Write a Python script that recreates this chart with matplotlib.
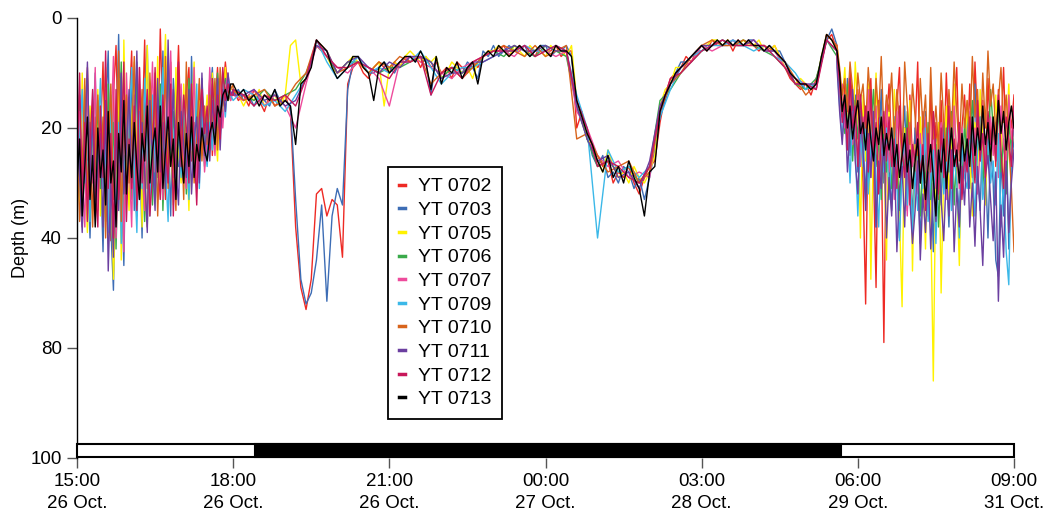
import numpy as np
import matplotlib.pyplot as plt
from matplotlib.patches import Rectangle
from matplotlib.lines import Line2D

plt.rcParams['font.family'] = ['Liberation Sans', 'DejaVu Sans']

# hours after 15:00; three stretches: evening, night, morning
t_start, t_mid, t_late, t_end = 0.0, 3.0, 14.6, 18.0
night = (3.42, 14.68)

tags = ['YT 0702', 'YT 0703', 'YT 0705', 'YT 0706', 'YT 0707',
        'YT 0709', 'YT 0710', 'YT 0711', 'YT 0712', 'YT 0713']
colors = ['#ee2a24', '#3d6db5', '#fff200', '#3aaa4a', '#ee4b9c',
          '#3bb8e8', '#d8641c', '#6b3fa0', '#c8175a', '#000000']

xtick_pos = [0, 3, 6, 9, 12, 15, 18]
xtick_lab = ['15:00\n26 Oct.', '18:00\n26 Oct.', '21:00\n26 Oct.', '00:00\n27 Oct.',
             '03:00\n28 Oct.', '06:00\n29 Oct.', '09:00\n31 Oct.']
ytick_pos = [0, 20, 40, 80, 100]

# depth (m), 15:00-18:00
early_0702 = [12, 25, 38, 20, 9, 28, 35, 18, 30, 22,
              8, 33, 19, 41, 14, 5, 26, 38, 11, 30,
              17, 6, 29, 36, 12, 22, 4, 31, 19, 27,
              10, 24, 2, 20, 33, 15, 8, 27, 18, 5,
              22, 30, 14, 9, 26, 19, 31, 12, 24, 17,
              20, 11, 25, 16, 9, 21, 14, 8, 13, 15,
              13]
early_0703 = [9, 30, 36, 15, 27, 40, 21, 10, 33, 26,
              45, 18, 6, 38, 59, 24, 3, 29, 50, 16,
              28, 12, 35, 8, 22, 40, 15, 5, 30, 20,
              32, 14, 25, 6, 29, 21, 36, 11, 19, 27,
              13, 28, 20, 33, 7, 24, 16, 29, 11, 22,
              25, 15, 9, 22, 13, 18, 10, 14, 12, 14,
              14]
early_0705 = [18, 34, 10, 27, 39, 16, 24, 32, 13, 36,
              20, 9, 42, 27, 55, 33, 11, 48, 4, 26,
              35, 19, 8, 26, 14, 38, 22, 5, 29, 17,
              23, 7, 31, 16, 3, 28, 20, 34, 9, 24,
              30, 12, 22, 35, 18, 8, 27, 15, 25, 20,
              14, 23, 10, 19, 26, 12, 17, 9, 15, 13,
              13]
early_0706 = [26, 14, 32, 22, 11, 36, 20, 29, 15, 31,
              24, 37, 12, 30, 19, 44, 23, 8, 35, 21,
              16, 33, 24, 10, 28, 18, 37, 21, 13, 34,
              19, 29, 12, 35, 22, 10, 26, 17, 30, 13,
              25, 18, 32, 11, 21, 28, 15, 24, 19, 27,
              17, 21, 12, 23, 10, 18, 14, 11, 15, 14,
              14]
early_0707 = [32, 17, 28, 38, 12, 24, 30, 9, 35, 19,
              27, 13, 36, 22, 7, 40, 28, 18, 45, 10,
              25, 38, 14, 30, 9, 26, 35, 16, 23, 8,
              28, 15, 24, 33, 11, 20, 6, 29, 23, 16,
              12, 26, 31, 17, 24, 9, 30, 20, 14, 28,
              22, 9, 18, 25, 15, 11, 20, 13, 10, 15,
              13]
early_0709 = [35, 22, 13, 30, 26, 37, 16, 33, 24, 11,
              31, 23, 39, 14, 28, 36, 19, 42, 25, 33,
              20, 9, 27, 39, 17, 31, 11, 24, 36, 14,
              26, 33, 18, 9, 27, 37, 14, 22, 31, 20,
              29, 15, 24, 33, 20, 27, 12, 31, 18, 23,
              27, 19, 24, 13, 20, 16, 12, 18, 11, 14,
              15]
early_0710 = [21, 37, 27, 11, 33, 19, 38, 25, 14, 29,
              18, 40, 24, 12, 33, 27, 6, 37, 21, 14,
              30, 22, 7, 34, 25, 13, 29, 38, 10, 22,
              14, 36, 20, 28, 7, 31, 17, 25, 35, 12,
              19, 33, 8, 27, 15, 30, 22, 11, 26, 16,
              23, 14, 20, 11, 24, 9, 16, 13, 12, 13,
              12]
early_0711 = [14, 29, 39, 23, 8, 30, 17, 36, 27, 21,
              38, 15, 52, 29, 47, 19, 35, 10, 32, 24,
              13, 30, 21, 6, 33, 19, 28, 39, 15, 26,
              35, 11, 28, 19, 31, 4, 24, 13, 27, 34,
              17, 23, 29, 13, 32, 22, 18, 30, 10, 25,
              19, 26, 15, 21, 11, 24, 13, 17, 10, 14,
              13]
early_0712 = [28, 10, 33, 19, 37, 23, 13, 31, 38, 16,
              29, 6, 31, 21, 40, 13, 33, 24, 8, 37,
              22, 31, 16, 35, 9, 30, 21, 13, 36, 28,
              9, 26, 33, 14, 23, 30, 12, 36, 20, 8,
              27, 14, 20, 30, 12, 23, 34, 18, 13, 21,
              16, 24, 11, 20, 14, 22, 9, 15, 12, 14,
              14]
early_0713 = [30, 22, 36, 27, 18, 33, 25, 38, 20, 29,
              24, 34, 17, 30, 26, 38, 21, 28, 15, 32,
              23, 29, 19, 27, 33, 21, 26, 16, 30, 24,
              20, 28, 16, 31, 24, 18, 27, 22, 33, 19,
              25, 30, 21, 27, 18, 29, 23, 26, 20, 24,
              26, 21, 19, 23, 16, 18, 14, 13, 15, 12,
              12]

# depth (m), 18:00-05:36
mid_0702 = [13, 15, 14, 16, 13, 15, 17, 14, 16, 15,
            14, 17, 38, 58, 66, 55, 32, 31, 36, 33,
            34, 47, 12, 9, 8, 10, 11, 9, 8, 9,
            10, 8, 9, 7, 8, 7, 9, 7, 9, 8,
            10, 9, 11, 8, 9, 10, 8, 9, 7, 6,
            6, 6, 5, 7, 6, 5, 6, 6, 7, 5,
            6, 6, 5, 7, 6, 6, 20, 17, 22, 24,
            25, 27, 26, 30, 28, 29, 27, 30, 32, 29,
            27, 26, 19, 14, 11, 10, 9, 7, 8, 6,
            5, 6, 4, 5, 5, 4, 6, 4, 5, 4,
            5, 6, 5, 6, 5, 7, 9, 11, 12, 13,
            12, 14, 11, 8, 4, 3, 6]
mid_0703 = [14, 13, 15, 14, 16, 14, 15, 16, 13, 15,
            15, 16, 33, 55, 64, 60, 48, 34, 63, 36,
            31, 34, 13, 8, 7, 9, 10, 10, 9, 8,
            9, 10, 8, 8, 7, 8, 7, 8, 14, 7,
            11, 10, 9, 9, 10, 8, 9, 11, 6, 7,
            5, 7, 6, 5, 6, 6, 5, 7, 6, 5,
            5, 7, 6, 6, 5, 7, 16, 19, 21, 25,
            27, 25, 29, 28, 30, 27, 28, 31, 29, 33,
            29, 24, 18, 15, 12, 10, 8, 8, 7, 6,
            6, 5, 5, 4, 5, 5, 4, 5, 5, 4,
            4, 5, 6, 5, 6, 6, 8, 10, 11, 12,
            13, 12, 13, 7, 4, 2, 5]
mid_0705 = [13, 14, 16, 14, 15, 13, 16, 15, 14, 16,
            14, 5, 4, 12, 11, 8, 5, 6, 7, 9,
            10, 9, 8, 7, 8, 9, 10, 9, 8, 16,
            9, 8, 9, 7, 6, 7, 8, 7, 8, 7,
            11, 10, 8, 9, 10, 9, 11, 8, 7, 6,
            6, 5, 6, 7, 5, 6, 7, 5, 6, 6,
            7, 5, 6, 6, 7, 5, 15, 18, 22, 23,
            26, 28, 24, 27, 29, 28, 30, 27, 29, 30,
            28, 25, 16, 13, 12, 9, 9, 8, 7, 6,
            5, 5, 4, 4, 5, 4, 5, 5, 4, 5,
            5, 4, 6, 6, 5, 7, 9, 10, 12, 11,
            12, 13, 12, 7, 3, 4, 6]
mid_0706 = [13, 14, 15, 13, 15, 14, 13, 10, 5, 7,
            10, 8, 8, 9, 10, 9, 9, 8, 7, 8,
            11, 9, 10, 9, 7, 6, 7, 5, 6, 7,
            5, 6, 7, 16, 22, 27, 26, 28, 27, 30,
            27, 15, 13, 10, 8, 6, 5, 4, 5, 4,
            5, 6, 7, 9, 12, 13, 11, 4, 7]
mid_0707 = [14, 15, 13, 16, 14, 16, 20, 12, 5, 7,
            9, 10, 8, 9, 11, 16, 8, 7, 8, 9,
            10, 11, 9, 8, 7, 6, 6, 7, 5, 6,
            6, 7, 6, 17, 20, 25, 27, 26, 29, 28,
            29, 16, 12, 9, 8, 5, 6, 5, 4, 5,
            4, 6, 6, 9, 11, 12, 13, 3, 5]
mid_0709 = [15, 13, 14, 16, 15, 17, 14, 11, 4, 8,
            11, 9, 7, 10, 9, 10, 8, 8, 6, 9,
            12, 10, 9, 9, 8, 7, 6, 6, 5, 6,
            6, 5, 6, 14, 20, 40, 24, 28, 27, 29,
            27, 18, 13, 9, 7, 6, 5, 5, 4, 5,
            6, 5, 7, 8, 10, 13, 12, 4, 6]
mid_0710 = [13, 15, 14, 13, 16, 15, 12, 10, 4, 6,
            10, 9, 8, 10, 8, 9, 7, 8, 7, 12,
            10, 9, 11, 9, 7, 6, 5, 6, 7, 5,
            7, 6, 5, 22, 21, 25, 28, 27, 26, 30,
            28, 17, 12, 10, 7, 5, 4, 5, 5, 4,
            5, 5, 6, 8, 11, 14, 12, 3, 5]
mid_0711 = [14, 14, 13, 15, 14, 16, 15, 11, 5, 6,
            10, 8, 7, 9, 10, 8, 9, 7, 7, 8,
            11, 10, 10, 8, 8, 7, 6, 5, 6, 6,
            5, 6, 6, 16, 22, 26, 25, 29, 28, 31,
            26, 16, 12, 9, 7, 5, 5, 4, 5, 5,
            4, 6, 6, 8, 12, 12, 12, 4, 6]
mid_0712 = [13, 14, 16, 14, 15, 14, 16, 11, 4, 7,
            9, 9, 8, 9, 10, 11, 8, 8, 7, 14,
            10, 9, 11, 8, 7, 6, 6, 6, 5, 7,
            6, 5, 6, 15, 20, 27, 26, 27, 29, 30,
            27, 17, 11, 10, 8, 6, 5, 4, 5, 5,
            5, 5, 7, 9, 12, 12, 13, 4, 6]
mid_0713 = [12, 14, 13, 15, 14, 16, 14, 15, 13, 16,
            15, 16, 23, 12, 11, 9, 4, 5, 6, 9,
            11, 10, 9, 7, 7, 9, 10, 15, 9, 8,
            10, 9, 8, 7, 7, 8, 6, 8, 13, 7,
            12, 9, 10, 8, 11, 9, 8, 12, 7, 6,
            7, 5, 6, 7, 6, 5, 6, 7, 6, 5,
            6, 7, 5, 6, 6, 7, 15, 18, 21, 23,
            26, 28, 25, 29, 27, 30, 26, 29, 31, 36,
            28, 27, 17, 14, 12, 10, 9, 8, 7, 6,
            5, 6, 5, 4, 5, 4, 5, 4, 5, 4,
            5, 5, 6, 5, 6, 7, 8, 10, 11, 12,
            12, 13, 12, 7, 3, 4, 6]

# depth (m), 05:36-09:00
late_0702 = [7, 14, 18, 12, 22, 9, 16, 25, 13, 20,
             30, 64, 18, 11, 27, 58, 15, 22, 78, 19,
             12, 24, 31, 16, 9, 28, 20, 35, 14, 26,
             21, 8, 30, 17, 25, 36, 12, 28, 19, 33,
             15, 27, 10, 23, 31, 18, 9, 26, 20, 14,
             24, 12, 29, 8, 19, 26, 15, 31, 11, 22,
             18, 27, 13, 21, 9, 25, 16, 20, 14]
late_0703 = [6, 12, 16, 20, 11, 25, 18, 14, 28, 17,
             22, 33, 15, 26, 19, 38, 24, 13, 30, 21,
             27, 35, 18, 29, 40, 23, 16, 31, 25, 37,
             20, 28, 42, 24, 17, 33, 26, 45, 22, 30,
             34, 19, 27, 38, 23, 15, 29, 36, 21, 26,
             17, 31, 24, 12, 28, 35, 20, 26, 40, 23,
             30, 48, 54, 25, 36, 20, 44, 27, 22]
late_0705 = [5, 10, 15, 9, 19, 13, 24, 8, 17, 40,
             14, 26, 12, 55, 21, 10, 30, 18, 24, 48,
             16, 29, 13, 22, 36, 65, 20, 27, 15, 52,
             23, 31, 18, 27, 44, 20, 35, 86, 26, 19,
             60, 28, 16, 33, 24, 12, 30, 50, 21, 27,
             15, 25, 36, 19, 29, 13, 22, 34, 17, 26,
             20, 14, 28, 18, 31, 22, 12, 25, 19]
late_0706 = [7, 13, 17, 21, 12, 18, 26, 15, 22, 14,
             25, 17, 30, 20, 13, 27, 22, 33, 18, 28,
             24, 31, 19, 26, 35, 21, 28, 17, 32, 24,
             29, 22, 36, 25, 30, 19, 33, 27, 23, 38,
             26, 31, 20, 28, 17, 34, 24, 22, 30, 19,
             27, 21, 15, 29, 24, 18, 31, 22, 26, 13,
             20, 25, 16, 28, 22, 32, 19, 24, 17]
late_0707 = [6, 15, 12, 20, 16, 11, 23, 19, 14, 27,
             18, 24, 13, 29, 21, 16, 31, 20, 26, 15,
             28, 20, 33, 17, 25, 30, 22, 36, 19, 27,
             24, 32, 21, 28, 18, 35, 26, 20, 31, 23,
             19, 27, 33, 22, 29, 16, 25, 31, 20, 28,
             23, 17, 28, 20, 32, 24, 15, 27, 21, 18,
             25, 19, 29, 16, 23, 27, 14, 22, 18]
late_0709 = [8, 16, 22, 14, 19, 30, 17, 24, 36, 21,
             27, 19, 32, 24, 17, 29, 38, 22, 28, 20,
             33, 25, 18, 30, 41, 27, 21, 34, 26, 39,
             28, 35, 23, 31, 20, 37, 29, 24, 42, 26,
             22, 32, 27, 19, 35, 25, 30, 40, 23, 29,
             31, 20, 27, 36, 24, 18, 33, 28, 22, 30,
             26, 34, 21, 38, 29, 45, 57, 24, 20]
late_0710 = [5, 9, 14, 11, 17, 8, 13, 19, 10, 15,
             12, 20, 9, 16, 24, 11, 18, 7, 21, 14,
             17, 10, 22, 13, 19, 26, 8, 16, 23, 12,
             18, 25, 11, 20, 14, 27, 9, 22, 16, 24,
             10, 19, 26, 13, 21, 8, 17, 24, 12, 20,
             15, 22, 7, 18, 13, 25, 10, 20, 6, 16,
             12, 21, 15, 9, 19, 14, 23, 31, 45]
late_0711 = [9, 17, 23, 15, 28, 20, 13, 26, 32, 18,
             24, 35, 21, 29, 17, 38, 26, 31, 22, 40,
             29, 36, 24, 45, 31, 27, 38, 22, 33, 42,
             35, 26, 48, 32, 39, 28, 44, 30, 37, 25,
             33, 41, 28, 36, 24, 45, 31, 38, 27, 34,
             22, 38, 30, 43, 27, 35, 50, 29, 25, 33,
             41, 28, 63, 34, 47, 26, 39, 30, 24]
late_0712 = [7, 12, 19, 15, 24, 11, 20, 16, 27, 14,
             21, 16, 28, 13, 25, 19, 32, 22, 17, 26,
             18, 27, 22, 31, 16, 24, 29, 20, 34, 23,
             26, 19, 30, 23, 35, 21, 28, 17, 25, 32,
             20, 29, 24, 16, 31, 22, 27, 19, 33, 25,
             28, 18, 24, 30, 15, 26, 21, 29, 17, 23,
             19, 26, 14, 24, 31, 18, 22, 27, 16]
late_0713 = [6, 10, 17, 14, 20, 16, 22, 18, 15, 21,
             19, 24, 17, 22, 26, 20, 23, 18, 25, 21,
             24, 20, 27, 23, 29, 25, 21, 28, 24, 31,
             26, 22, 30, 25, 33, 27, 23, 29, 36, 24,
             28, 22, 31, 25, 20, 27, 24, 30, 21, 26,
             22, 27, 18, 25, 20, 24, 16, 23, 19, 26,
             18, 23, 15, 21, 17, 24, 19, 16, 20]

early = [early_0702, early_0703, early_0705, early_0706, early_0707,
         early_0709, early_0710, early_0711, early_0712, early_0713]
mid = [mid_0702, mid_0703, mid_0705, mid_0706, mid_0707,
       mid_0709, mid_0710, mid_0711, mid_0712, mid_0713]
late = [late_0702, late_0703, late_0705, late_0706, late_0707,
        late_0709, late_0710, late_0711, late_0712, late_0713]


# depth axis of the original is squeezed between 40 and 80 m
def fwd(d):
    d = np.asarray(d, dtype=float)
    return np.where(d <= 40, d, np.where(d <= 80, 40 + (d - 40) / 2, 60 + (d - 80)))


def inv(v):
    v = np.asarray(v, dtype=float)
    return np.where(v <= 40, v, np.where(v <= 60, 40 + (v - 40) * 2, 80 + (v - 60)))


fig = plt.figure(figsize=(10.48, 5.15), dpi=100)
ax = fig.add_axes([77 / 1048, 1 - 458 / 515, (1014 - 77) / 1048, 440 / 515])

for e, m, l, c, tag in zip(early, mid, late, colors, tags):
    t = np.concatenate([np.linspace(t_start, t_mid, len(e)),
                        np.linspace(t_mid, t_late, len(m)),
                        np.linspace(t_late, t_end, len(l))])
    d = np.concatenate([e, m, l])
    ax.plot(t, d, color=c, lw=1.0, label=tag)

ax.set_yscale('function', functions=(fwd, inv))
ax.set_xlim(t_start, t_end)
ax.set_ylim(100, 0)

# day / night bar
bar_top, bar_bot = 97.45, 99.8
ax.add_patch(Rectangle((t_start, bar_top), t_end - t_start, bar_bot - bar_top,
                       facecolor='white', edgecolor='black', lw=1.5, zorder=5, clip_on=False))
ax.add_patch(Rectangle((night[0], bar_top), night[1] - night[0], bar_bot - bar_top,
                       facecolor='black', edgecolor='black', lw=1.5, zorder=6, clip_on=False))

ax.set_yticks(ytick_pos)
ax.set_yticklabels([str(v) for v in ytick_pos])
ax.yaxis.set_minor_locator(plt.NullLocator())
ax.set_xticks(xtick_pos)
ax.set_xticklabels(xtick_lab)
for lbl in ax.get_xticklabels():
    lbl.set_linespacing(1.4)
ax.tick_params(axis='y', direction='out', length=7, width=1, labelsize=13.5, pad=4, color='#555555')
ax.tick_params(axis='x', direction='out', length=7, width=1, labelsize=13.5, pad=4, color='#555555')
ax.set_ylabel('Depth (m)', fontsize=13, labelpad=1)

for s in ['top', 'right', 'bottom']:
    ax.spines[s].set_visible(False)
ax.spines['left'].set_linewidth(1.0)

handles = [Line2D([], [], color=c, lw=2.5) for c in colors]
leg = ax.legend(handles, tags, loc='upper left', bbox_to_anchor=(0.332, 0.661),
                borderaxespad=0, fontsize=14, handlelength=0.3, handletextpad=0.7,
                labelspacing=0.31, borderpad=0.55, fancybox=False, framealpha=1,
                edgecolor='black')
leg.get_frame().set_linewidth(1.3)

fig.savefig('out.png', dpi=100)
